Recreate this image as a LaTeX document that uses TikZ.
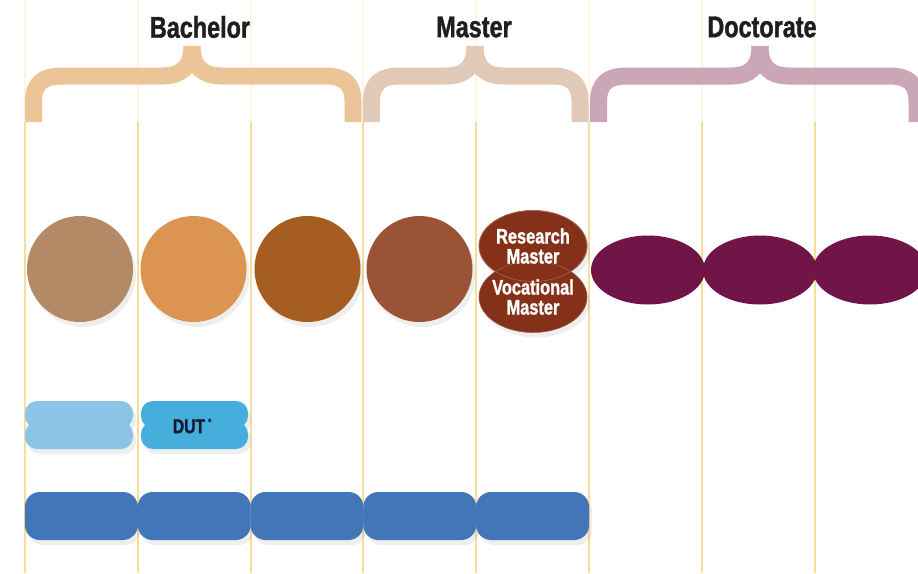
\documentclass[tikz,border=0pt]{standalone}
\usepackage{fontspec}
\newfontfamily\condfont[FakeStretch=0.78,RawFeature={embolden=1.2}]{Liberation Sans Bold}
\usetikzlibrary{shapes.geometric,shadows}

\definecolor{bachbrace}{HTML}{EBC597}
\definecolor{mastbrace}{HTML}{E0C9B6}
\definecolor{docbrace}{HTML}{C9A7B7}
\definecolor{gridyellow}{HTML}{F5DF96}
\definecolor{titletext}{HTML}{1E1E1E}
\definecolor{yearone}{HTML}{B38A65}
\definecolor{yeartwo}{HTML}{DB9452}
\definecolor{yearthree}{HTML}{A65D21}
\definecolor{yearfour}{HTML}{9A5335}
\definecolor{mastblob}{HTML}{85311A}
\definecolor{docblob}{HTML}{711447}
\definecolor{dutlight}{HTML}{8BC4E6}
\definecolor{dutblue}{HTML}{45AEDC}
\definecolor{trackblue}{HTML}{4375B9}
\definecolor{dutink}{HTML}{0F1A2E}

\begin{document}
\begin{tikzpicture}[x=1pt,y=-1pt,
	title/.style={font=\condfont\fontsize{30}{30}\selectfont,text=titletext},
	brace/.style={line width=17pt,line cap=butt,line join=round},
	softshadow/.style={drop shadow={opacity=0.13,shadow xshift=3pt,shadow yshift=-5pt}},
	year/.style={shape=circle,minimum size=106pt,inner sep=0pt,softshadow},
	blob/.style={shape=ellipse,minimum width=108pt,minimum height=71pt,inner sep=0pt,fill=mastblob,draw=mastblob!80!white,line width=0.6pt},
	blobtext/.style={text=white,align=center,font=\condfont\fontsize{21}{20}\selectfont},
	docyear/.style={shape=ellipse,minimum width=114pt,minimum height=69pt,inner sep=0pt,fill=docblob},
	track/.style={shape=rectangle,rounded corners=15pt,minimum width=113pt,minimum height=48pt,inner sep=0pt,fill=trackblue,softshadow}]

	\fill[white] (0,0) rectangle (918,573);
	\useasboundingbox (0,0) rectangle (918,573);

	% year lines
	\foreach \x in {25,138,251,363,476,589,702,815} {
		\draw[gridyellow!25,line width=1.5pt] (\x,0) -- (\x,122);
		\draw[gridyellow,line width=2pt] (\x,122) -- (\x,573);
	}

	% braces
	\draw[brace,bachbrace] (33.5,122) -- (33.5,102) .. controls (33.5,84) and (42,76) .. (62,76) -- (162,76) .. controls (182,76) and (192,66) .. (192,46);
	\draw[brace,bachbrace] (353,122) -- (353,102) .. controls (353,84) and (345,76) .. (325,76) -- (222,76) .. controls (202,76) and (192,66) .. (192,46);
	\draw[brace,mastbrace] (371.5,122) -- (371.5,102) .. controls (371.5,84) and (380,76) .. (400,76) -- (446,76) .. controls (466,76) and (475,66) .. (475,46);
	\draw[brace,mastbrace] (580,122) -- (580,102) .. controls (580,84) and (572,76) .. (552,76) -- (504,76) .. controls (484,76) and (475,66) .. (475,46);
	\draw[brace,docbrace] (598.5,122) -- (598.5,102) .. controls (598.5,84) and (607,76) .. (627,76) -- (731,76) .. controls (751,76) and (760,66) .. (760,46);
	\draw[brace,docbrace] (917,122) -- (917,102) .. controls (917,84) and (909,76) .. (889,76) -- (789,76) .. controls (769,76) and (760,66) .. (760,46);

	\node[title] (bachelor) at (200,27) {Bachelor};
	\node[title] (master) at (474,27) {Master};
	\node[title] (doctorate) at (762,27) {Doctorate};

	% years
	\node[year,fill=yearone] (y1) at (80,269) {};
	\node[year,fill=yeartwo] (y2) at (193.5,269) {};
	\node[year,fill=yearthree] (y3) at (307.5,269) {};
	\node[year,fill=yearfour] (y4) at (419.5,269) {};

	\node[blob,softshadow] (research) at (533,246) {};
	\node[blob,softshadow] (vocational) at (533,297) {};
	\draw[mastblob!75!white,line width=0.6pt] (research.center) ellipse (54pt and 35.5pt);
	\node[blobtext] at (research) {Research\\Master};
	\node[blobtext] at (vocational) {Vocational\\Master};

	\node[docyear] (d3) at (870,270) {};
	\node[docyear] (d2) at (760,270) {};
	\node[docyear] (d1) at (648,270) {};

	% DUT
	\fill[dutlight,rounded corners=12pt,softshadow] (25,401) rectangle (133,428) (25,422) rectangle (133,449);
	\fill[dutblue,rounded corners=12pt,softshadow] (141,401) rectangle (248,428) (141,422) rectangle (248,449);
	\node[text=dutink,font=\condfont\fontsize{20}{20}\selectfont] (dut) at (192,426) {DUT\,\raisebox{0.8ex}{\fontsize{9}{9}\selectfont*}};

	% tracks
	\foreach \i in {0,...,4}
		\node[track] (track\i) at (81.4+112.8*\i,516) {};

\end{tikzpicture}
\end{document}
